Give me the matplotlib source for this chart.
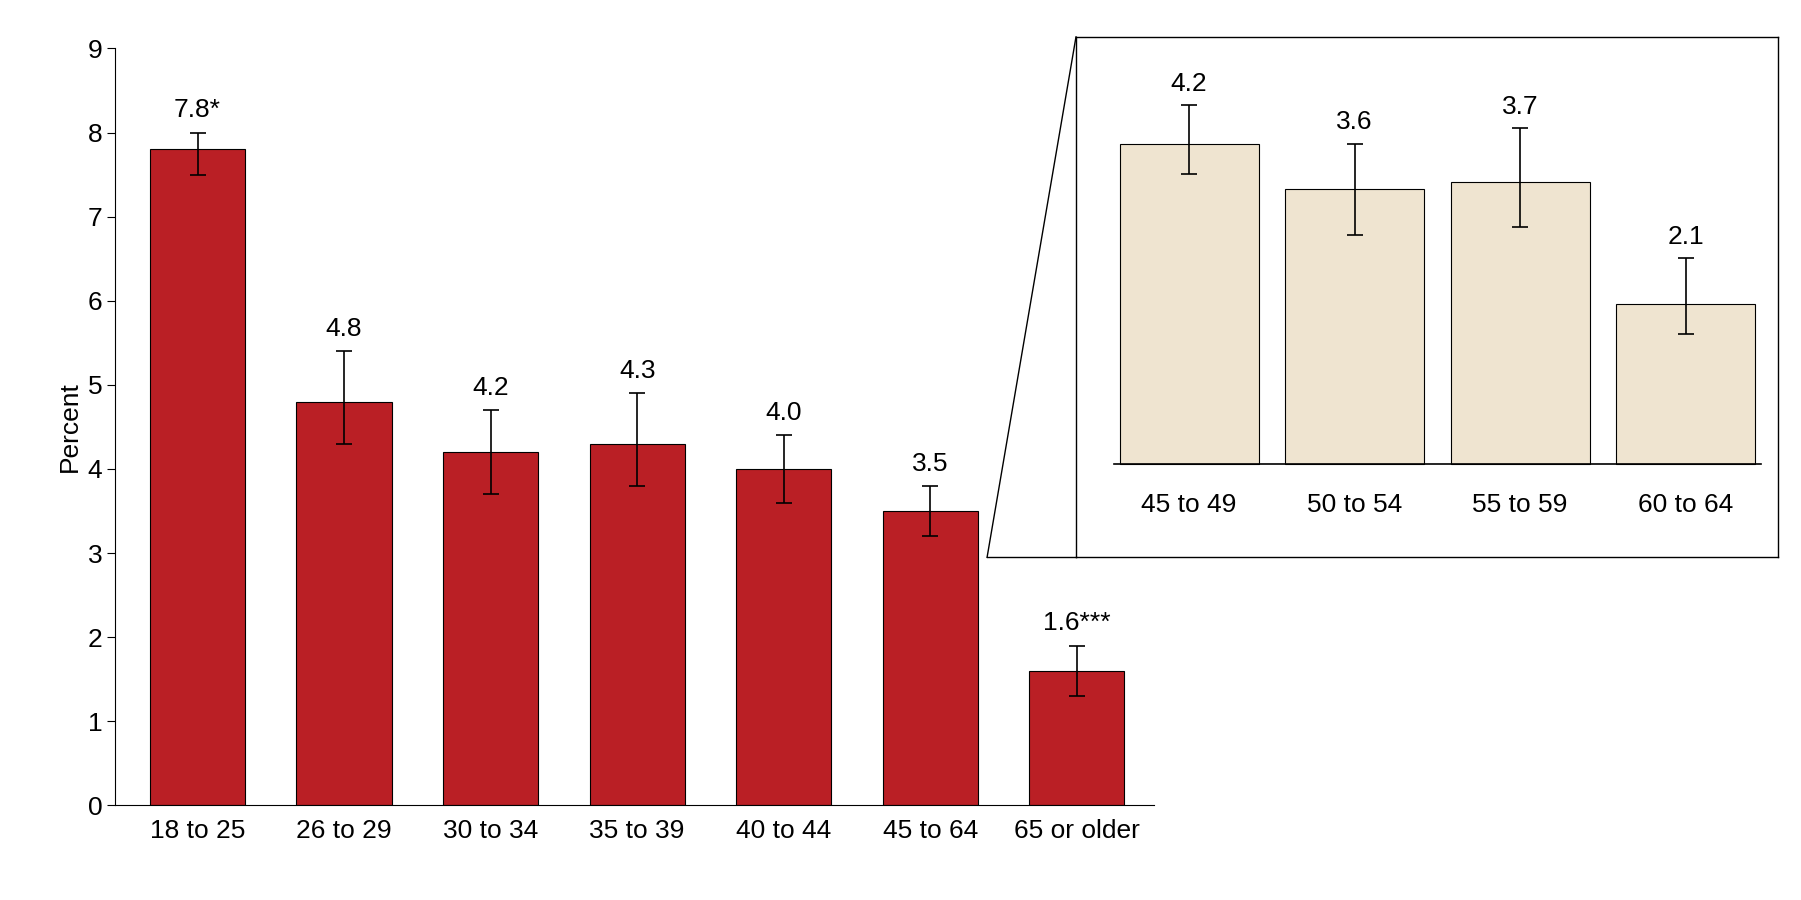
import matplotlib
matplotlib.use("Agg")
import matplotlib.pyplot as plt
from matplotlib.lines import Line2D

plt.rcParams['font.family'] = ['Liberation Sans Narrow', 'Liberation Sans', 'DejaVu Sans']

cats = ["18 to 25", "26 to 29", "30 to 34", "35 to 39", "40 to 44", "45 to 64", "65 or older"]
vals = [7.8, 4.8, 4.2, 4.3, 4.0, 3.5, 1.6]
lows = [7.5, 4.3, 3.7, 3.8, 3.6, 3.2, 1.3]
highs = [8.0, 5.4, 4.7, 4.9, 4.4, 3.8, 1.9]
labels = ["7.8*", "4.8", "4.2", "4.3", "4.0", "3.5", "1.6***"]

icats = ["45 to 49", "50 to 54", "55 to 59", "60 to 64"]
ivals = [4.2, 3.6, 3.7, 2.1]
ilows = [3.8, 3.0, 3.1, 1.7]
ihighs = [4.7, 4.2, 4.4, 2.7]
ilabels = ["4.2", "3.6", "3.7", "2.1"]

W, H = 1560, 780
fig = plt.figure(figsize=(18.01, 9), dpi=100)
def fx(x): return x / W
def fy(y): return 1 - y / H

ax = fig.add_axes([fx(100), fy(698), fx(1000) - fx(100), fy(42) - fy(698)])
x = list(range(len(cats)))
yerr = [[v - l for v, l in zip(vals, lows)], [h - v for v, h in zip(vals, highs)]]
ax.bar(x, vals, width=0.65, color="#BA1F25", edgecolor="black", linewidth=0.8, zorder=2)
ax.errorbar(x, vals, yerr=yerr, fmt="none", ecolor="black", elinewidth=1.2, capsize=6, capthick=1.2, zorder=3)
for xi, h, t in zip(x, highs, labels):
    ax.text(xi, h + 0.12, t, ha="center", va="bottom", fontsize=19)
ax.set_xlim(-0.56, 6.53)
ax.set_ylim(0, 9)
ax.set_yticks(range(10))
ax.set_xticks(x)
ax.set_xticklabels(cats, fontsize=19)
ax.tick_params(axis="y", labelsize=19, length=6)
ax.tick_params(axis="x", length=0, pad=10)
ax.set_ylabel("Percent", fontsize=19)
for s in ["top", "right"]:
    ax.spines[s].set_visible(False)

# inset
iax = fig.add_axes([fx(932), fy(483), fx(1540) - fx(932), fy(32) - fy(483)])
ix = list(range(len(icats)))
iyerr = [[v - l for v, l in zip(ivals, ilows)], [h - v for v, h in zip(ivals, ihighs)]]
iax.bar(ix, ivals, width=0.84, color="#EFE4D0", edgecolor="black", linewidth=0.8, zorder=2)
iax.errorbar(ix, ivals, yerr=iyerr, fmt="none", ecolor="black", elinewidth=1.2, capsize=6, capthick=1.2, zorder=3)
for xi, h, t in zip(ix, ihighs, ilabels):
    iax.text(xi, h + 0.12, t, ha="center", va="bottom", fontsize=19)
iax.set_xlim(-0.684, 3.558)
iax.set_ylim(-1.23, 5.6)
iax.plot([-0.454, 3.454], [0, 0], color="black", lw=1.2, zorder=4)
for xi, c in zip(ix, icats):
    iax.text(xi, -0.55, c, ha="center", va="center", fontsize=19)
iax.set_xticks([]); iax.set_yticks([])
for s in iax.spines.values():
    s.set_linewidth(1.0)

fig.add_artist(Line2D([fx(855), fx(932)], [fy(483), fy(483)], color="black", lw=1.0))
fig.add_artist(Line2D([fx(855), fx(932)], [fy(483), fy(32)], color="black", lw=1.0))

fig.savefig("out.png", dpi=100)
